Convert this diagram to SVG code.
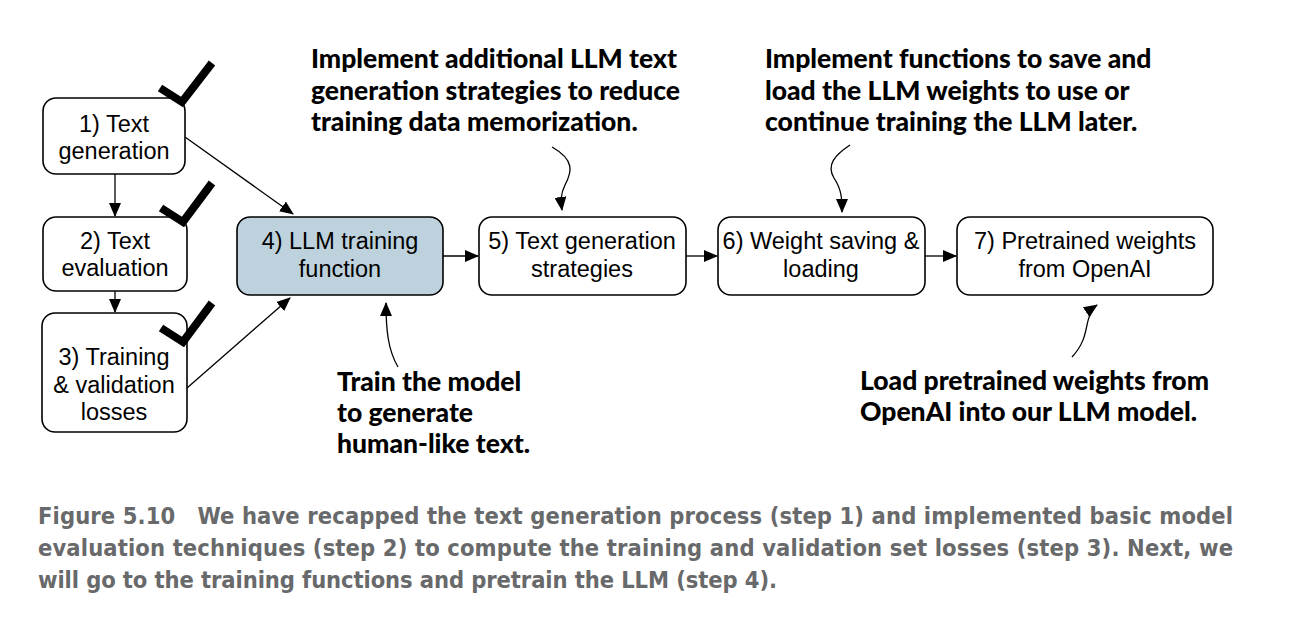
<svg xmlns="http://www.w3.org/2000/svg" width="1300" height="628" viewBox="0 0 1300 628">
<style>
.box{fill:#fff;stroke:#000;stroke-width:1.6}
.hl{fill:#bed2dd}
.lbl{font-family:"Liberation Sans",Arial,sans-serif;font-size:23.5px;fill:#000;text-anchor:middle}
.ann{font-family:Lato,"Noto Sans",sans-serif;font-weight:900;font-size:26.5px;fill:#000}
.cap{font-family:"Liberation Sans Narrow","DejaVu Sans Condensed",sans-serif;font-weight:bold;font-size:23.5px;fill:#68696b}
.con{fill:none;stroke:#000;stroke-width:1.3}
.chk{fill:none;stroke:#000;stroke-width:8}
</style>
<defs>
<marker id="ah" markerUnits="userSpaceOnUse" markerWidth="14" markerHeight="12" refX="13" refY="6" orient="auto">
<path d="M0,0 L14,6 L0,12 z" fill="#000"/>
</marker>
</defs>
<g id="node1"><rect class="box" x="43" y="98" width="142" height="76" rx="13"/><text class="lbl" x="114" y="132">1) Text</text><text class="lbl" x="114" y="159">generation</text></g>
<g id="node2"><rect class="box" x="43" y="217" width="144" height="74" rx="13"/><text class="lbl" x="115" y="249">2) Text</text><text class="lbl" x="115" y="276">evaluation</text></g>
<g id="node3"><rect class="box" x="42" y="313" width="145" height="119" rx="13"/><text class="lbl" x="114" y="365">3) Training</text><text class="lbl" x="114" y="393">&amp; validation</text><text class="lbl" x="114" y="420">losses</text></g>
<g id="node4"><rect class="box hl" x="237" y="217" width="206" height="78" rx="13"/><text class="lbl" x="340" y="249">4) LLM training</text><text class="lbl" x="340" y="277">function</text></g>
<g id="node5"><rect class="box" x="479" y="217" width="207" height="78" rx="13"/><text class="lbl" x="582" y="249">5) Text generation</text><text class="lbl" x="582" y="277">strategies</text></g>
<g id="node6"><rect class="box" x="718" y="217" width="207" height="78" rx="13"/><text class="lbl" x="821" y="249">6) Weight saving &amp;</text><text class="lbl" x="821" y="277">loading</text></g>
<g id="node7"><rect class="box" x="957" y="217" width="256" height="78" rx="13"/><text class="lbl" x="1085" y="249">7) Pretrained weights</text><text class="lbl" x="1085" y="277">from OpenAI</text></g>
<g id="checks">
<path class="chk" d="M160,88 L182,102 L212,63"/>
<path class="chk" d="M161,208 L183,222 L212,183"/>
<path class="chk" d="M161,328 L183,342 L212,303"/>
</g>
<g id="connectors">
<line class="con" x1="115" y1="174" x2="115" y2="216" marker-end="url(#ah)"/>
<line class="con" x1="115" y1="291" x2="115" y2="312" marker-end="url(#ah)"/>
<line class="con" x1="185" y1="137" x2="293" y2="214" marker-end="url(#ah)"/>
<line class="con" x1="187" y1="388" x2="290" y2="298" marker-end="url(#ah)"/>
<line class="con" x1="443" y1="256" x2="478" y2="256" marker-end="url(#ah)"/>
<line class="con" x1="686" y1="256" x2="717" y2="256" marker-end="url(#ah)"/>
<line class="con" x1="925" y1="256" x2="956" y2="256" marker-end="url(#ah)"/>
<path class="con" d="M552,147 C575,160 572,172 565,185 C560,195 561,202 562,210" marker-end="url(#ah)"/>
<path class="con" d="M850,145 C835,155 826,165 834,178 C842,190 842,200 842,212" marker-end="url(#ah)"/>
<path class="con" d="M398,367 C388,350 386,330 386,303" marker-end="url(#ah)"/>
<path class="con" d="M1072,357 C1088,340 1085,325 1090,315 C1092,310 1094,307 1097,305" marker-end="url(#ah)"/>
</g>
<g id="annotations">
<text class="ann" x="311" y="68">Implement additional LLM text</text>
<text class="ann" x="311" y="100">generation strategies to reduce</text>
<text class="ann" x="311" y="131">training data memorization.</text>
<text class="ann" x="765" y="68">Implement functions to save and</text>
<text class="ann" x="765" y="100">load the LLM weights to use or</text>
<text class="ann" x="765" y="131">continue training the LLM later.</text>
<text class="ann" x="337" y="391">Train the model</text>
<text class="ann" x="337" y="422">to generate</text>
<text class="ann" x="337" y="453">human-like text.</text>
<text class="ann" x="860" y="390">Load pretrained weights from</text>
<text class="ann" x="860" y="421">OpenAI into our LLM model.</text>
</g>
<g id="caption">
<text class="cap" x="38" y="524" textLength="1195">Figure 5.10<tspan dx="22">We have recapped the text generation process (step 1) and implemented basic model</tspan></text>
<text class="cap" x="38" y="556" textLength="1195">evaluation techniques (step 2) to compute the training and validation set losses (step 3). Next, we</text>
<text class="cap" x="38" y="588" textLength="739">will go to the training functions and pretrain the LLM (step 4).</text>
</g>
</svg>
